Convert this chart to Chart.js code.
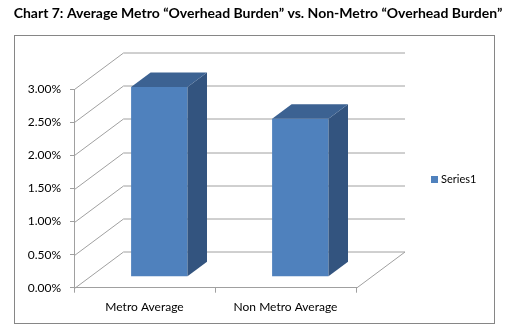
<!DOCTYPE html>
<html>
<head>
<meta charset="utf-8">
<script src="https://cdn.jsdelivr.net/npm/chart.js@4"></script>
<style>
  html, body { margin: 0; padding: 0; background: #fff; }
  #wrap { width: 516px; height: 335px; position: relative; }
</style>
</head>
<body>
<div id="wrap"><canvas id="myChart"></canvas></div>
<script>
'use strict'

// data
const categories = ['Metro Average', 'Non Metro Average']
const series1 = [0.0287, 0.0239]
const seriesName = 'Series1'
const titleText = 'Chart 7: Average Metro \u201cOverhead Burden\u201d vs. Non-Metro \u201cOverhead Burden\u201d'
const yMin = 0
const yMax = 0.03
const yStep = 0.005

const FONT = 'Lato'
const FRONT = '#4F81BD'
const SIDE = '#33547F'
const TOP = '#3C6292'
const GRID = '#a0a0a0'

// fake 3d: back wall offset, bar plane offset, bar depth
const WALL = { x: 49, y: -36.5 }
const SHIFT = { x: 14.8, y: -11 }
const DEPTH = { x: 19.5, y: -14.5 }

const fake3d = {
  id: 'fake3d',
  beforeDraw(chart) {
    const ctx = chart.ctx
    ctx.save()
    ctx.strokeStyle = '#868686'
    ctx.lineWidth = 1
    ctx.strokeRect(14.5, 35.5, 480, 288)
    ctx.restore()
  },
  beforeDatasetsDraw(chart) {
    const { ctx, chartArea: a, scales: { y } } = chart
    ctx.save()
    ctx.strokeStyle = GRID
    ctx.lineWidth = 1
    ctx.beginPath()
    y.ticks.forEach(t => {
      const py = Math.round(y.getPixelForValue(t.value)) + 0.5
      const lx = Math.round(a.left) + 0.5
      ctx.moveTo(lx, py)
      ctx.lineTo(lx + WALL.x, py + WALL.y)
      ctx.lineTo(a.right + WALL.x, py + WALL.y)
    })
    const by = Math.round(a.bottom) + 0.5
    ctx.moveTo(a.right, by)
    ctx.lineTo(a.right + WALL.x, by + WALL.y)
    ctx.stroke()
    ctx.restore()

    // bars sit in the middle of the floor depth
    ctx.save()
    ctx.translate(SHIFT.x, SHIFT.y)
  },
  afterDatasetsDraw(chart) {
    const ctx = chart.ctx
    chart.getDatasetMeta(0).data.forEach(bar => {
      const { x, y, base, width } = bar.getProps(['x', 'y', 'base', 'width'], true)
      const l = x - width / 2
      const r = x + width / 2
      ctx.fillStyle = SIDE
      ctx.beginPath()
      ctx.moveTo(r, y)
      ctx.lineTo(r + DEPTH.x, y + DEPTH.y)
      ctx.lineTo(r + DEPTH.x, base + DEPTH.y)
      ctx.lineTo(r, base)
      ctx.closePath()
      ctx.fill()
      ctx.fillStyle = TOP
      ctx.beginPath()
      ctx.moveTo(l, y)
      ctx.lineTo(l + DEPTH.x, y + DEPTH.y)
      ctx.lineTo(r + DEPTH.x, y + DEPTH.y)
      ctx.lineTo(r, y)
      ctx.closePath()
      ctx.fill()
    })
    ctx.restore()
  },
  afterDraw(chart) {
    const ctx = chart.ctx
    ctx.save()
    ctx.fillStyle = FRONT
    ctx.fillRect(431, 176, 7, 7)
    ctx.fillStyle = '#000'
    ctx.font = '11px ' + FONT
    ctx.textBaseline = 'middle'
    ctx.fillText(seriesName, 441, 179.5)
    ctx.restore()
  }
}

const ctx = document.getElementById('myChart')

new Chart(ctx, {
  type: 'bar',
  data: {
    labels: categories,
    datasets: [{
      label: seriesName,
      data: series1,
      backgroundColor: FRONT,
      borderWidth: 0,
      categoryPercentage: 1,
      barPercentage: 0.4,
      clip: false
    }]
  },
  options: {
    responsive: true,
    maintainAspectRatio: false,
    animation: false,
    layout: { padding: 0 },
    plugins: {
      legend: { display: false },
      tooltip: { enabled: false },
      title: {
        display: true,
        text: titleText,
        color: '#000',
        font: { family: FONT, size: 14, weight: 'bold', lineHeight: 1.2 },
        padding: { top: 4.7, bottom: 67.8 }
      }
    },
    scales: {
      x: {
        afterFit(scale) { scale.height = 47.3 },
        grid: { drawOnChartArea: false, tickLength: 5, color: GRID, offset: true },
        border: { color: GRID },
        ticks: { color: '#000', padding: 7, font: { family: FONT, size: 12 } }
      },
      y: {
        min: yMin,
        max: yMax,
        afterFit(scale) { scale.width = 74 },
        grid: { drawOnChartArea: false, tickLength: 4, color: GRID },
        border: { color: GRID },
        ticks: {
          stepSize: yStep,
          color: '#000',
          padding: 9,
          font: { family: FONT, size: 12 },
          callback: v => (v * 100).toFixed(2) + '%'
        }
      },
      // empty right strip that holds the wall depth and the legend
      side: {
        type: 'linear',
        position: 'right',
        afterFit(scale) { scale.width = 160 },
        grid: { display: false },
        border: { display: false },
        ticks: { display: false }
      }
    }
  },
  plugins: [fake3d]
})
</script>
</body>
</html>
